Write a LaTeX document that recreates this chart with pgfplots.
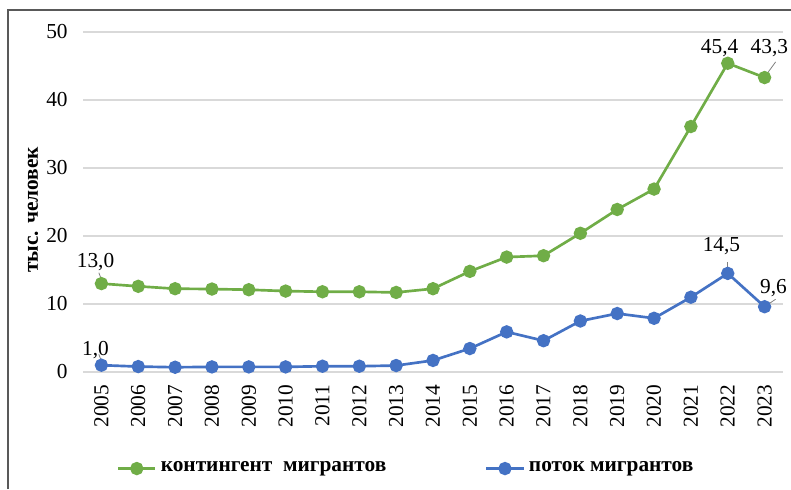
\documentclass[border=0pt]{standalone}
\usepackage{pgfplots}
\pgfplotsset{compat=1.18}
\usepackage{fontspec}
\setmainfont{Liberation Serif}
\definecolor{cgreen}{RGB}{112,173,71}
\definecolor{cblue}{RGB}{68,114,196}
\definecolor{cgrid}{RGB}{217,217,217}
\begin{document}
\fontsize{16}{19}\selectfont
\begin{tikzpicture}
\useasboundingbox (0,0) rectangle (593.25pt,366.75pt);
\draw[gray!70!black, line width=0.9pt] (6pt,0pt) -- (6pt,359.25pt) -- (600pt,359.25pt);
\node[rotate=90, font=\fontsize{16}{19}\selectfont\bfseries] at (24.75pt,209.25pt) {тыс. человек};
\begin{axis}[
  at={(62.25pt,87.75pt)}, anchor=south west,
  scale only axis, width=525pt, height=255pt,
  clip=false,
  xmin=2004.5, xmax=2023.5, ymin=0, ymax=50,
  xtick={2005,...,2023}, ytick={0,10,...,50},
  axis line style={draw=none},
  major tick length=0pt,
  ymajorgrids, grid style={cgrid, line width=0.9pt},
  /pgf/number format/assume math mode=true,
  /pgf/number format/1000 sep={},
  tick label style={font=\fontsize{16}{19}\selectfont},
  xticklabel style={rotate=90, anchor=east, xshift=0pt, yshift=0pt},
  xticklabel shift=4pt,
  yticklabel shift=6pt,
  legend style={at={(0.462,-0.284)}, anchor=center, draw=none, fill=none,
    font=\fontsize{16}{19}\selectfont\bfseries, legend columns=2,
    /tikz/every odd column/.append style={column sep=1pt},
    /tikz/every even column/.append style={column sep=72pt}},
  legend image code/.code={
    \draw[#1, mark=none] (0pt,0pt) -- (28pt,0pt);
    \draw[#1, mark repeat=1] plot coordinates {(14pt,0pt)};},
]
\addplot[cgreen, line width=2pt, mark=*, mark size=4pt, mark options={solid}] coordinates {
(2005,13.0) (2006,12.6) (2007,12.25) (2008,12.2) (2009,12.1) (2010,11.9) (2011,11.8)
(2012,11.8) (2013,11.7) (2014,12.25) (2015,14.8) (2016,16.9) (2017,17.1) (2018,20.4)
(2019,23.9) (2020,26.9) (2021,36.1) (2022,45.4) (2023,43.3)};
\addlegendentry{контингент\ \ мигрантов}
\addplot[cblue, line width=2pt, mark=*, mark size=4pt, mark options={solid}] coordinates {
(2005,1.0) (2006,0.8) (2007,0.7) (2008,0.75) (2009,0.75) (2010,0.75) (2011,0.85)
(2012,0.85) (2013,0.95) (2014,1.7) (2015,3.45) (2016,5.9) (2017,4.6) (2018,7.5)
(2019,8.6) (2020,7.9) (2021,11.0) (2022,14.5) (2023,9.6)};
\addlegendentry{поток мигрантов}
\draw[gray, line width=0.6pt] (axis cs:2004.93,14.6) -- (axis cs:2005,13.6);
\draw[gray, line width=0.6pt] (axis cs:2004.93,2.6) -- (axis cs:2005,1.6);
\draw[gray, line width=0.6pt] (axis cs:2023.07,43.9) -- (axis cs:2023.3,45.6);
\draw[gray, line width=0.6pt] (axis cs:2023.08,9.9) -- (axis cs:2023.3,10.7);
\draw[gray, line width=0.6pt] (axis cs:2022,15.1) -- (axis cs:2022,16.2);
\node[font=\fontsize{16}{19}\selectfont] at (axis cs:2004.84,16.2) {13,0};
\node[font=\fontsize{16}{19}\selectfont] at (axis cs:2004.84,3.2) {1,0};
\node[font=\fontsize{16}{19}\selectfont] at (axis cs:2021.78,47.6) {45,4};
\node[font=\fontsize{16}{19}\selectfont] at (axis cs:2023.13,47.6) {43,3};
\node[font=\fontsize{16}{19}\selectfont] at (axis cs:2021.83,18.5) {14,5};
\node[font=\fontsize{16}{19}\selectfont] at (axis cs:2023.24,12.35) {9,6};
\end{axis}
\end{tikzpicture}
\end{document}
